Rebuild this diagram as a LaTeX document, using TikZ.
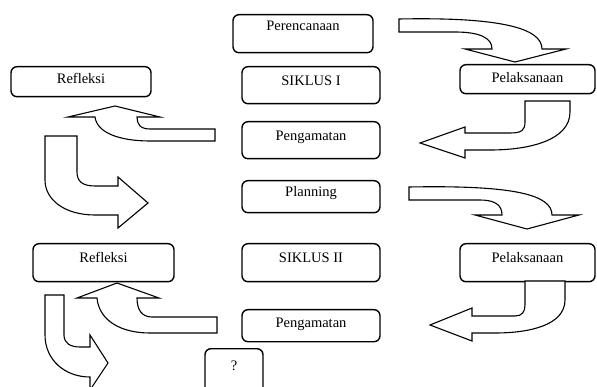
\documentclass[tikz,border=0pt]{standalone}
\usepackage{fontspec}
\setmainfont{Liberation Serif}
\begin{document}
\begin{tikzpicture}[x=1pt,y=-1pt,
  box/.style={draw=black, line width=1.4pt, rounded corners=6pt, inner xsep=0pt, inner ysep=0pt,
    anchor=north, font=\fontsize{14.5}{16}\selectfont},
  arr/.style={draw=black, line width=1.1pt, fill=white, line join=miter}]
\clip (0,0) rectangle (597,387);
\fill[white] (0,0) rectangle (597,387);

% boxes
\node[box, minimum width=140pt, text height=16pt, text depth=22pt] (per) at (303,14) {Perencanaan};
\node[box, minimum width=138pt, text height=19pt, text depth=18pt] (s1) at (311,66) {SIKLUS I};
\node[box, minimum width=138pt, text height=19pt, text depth=18pt] (peng1) at (311,121) {Pengamatan};
\node[box, minimum width=140pt, text height=17pt, text depth=13pt] (ref1) at (81,66) {Refleksi};
\node[box, minimum width=135pt, text height=18pt, text depth=11pt] (pel1) at (527.5,64) {Pelaksanaan};
\node[box, minimum width=138pt, text height=16pt, text depth=16pt] (plan) at (311,180) {Planning};
\node[box, minimum width=138pt, text height=19pt, text depth=19pt] (s2) at (311,243) {SIKLUS II};
\node[box, minimum width=135pt, text height=19pt, text depth=19pt] (pel2) at (527.5,243) {Pelaksanaan};
\node[box, minimum width=141pt, text height=19pt, text depth=19pt] (ref2) at (103.5,243) {Refleksi};
\node[box, minimum width=138pt, text height=18pt, text depth=14pt] (peng2) at (311,309) {Pengamatan};
\node[box, minimum width=58pt, text height=22pt, text depth=30pt] (q) at (234,348) {?};

% A1: Perencanaan -> Pelaksanaan
\draw[arr] (399,19) .. controls (500,17) and (542,28) .. (542,49) -- (566,49) -- (515,62) -- (465,49) -- (492,49)
  .. controls (492,38) and (480,32) .. (455,32) -- (399,32) -- cycle;
% A2: Pelaksanaan -> Pengamatan
\draw[arr] (525,101) -- (570,101) -- (570,112) .. controls (570,140) and (530,150) .. (490,150) -- (465,150)
  -- (465,158) -- (420,143) -- (465,127) -- (465,133) -- (510,133) .. controls (522,133) and (525,130) .. (525,122) -- cycle;
% A3: Pengamatan -> Refleksi
\draw[arr] (215,129) -- (150,129) .. controls (140,129) and (137,124) .. (137,117) -- (160,117) -- (115,106)
  -- (68,117) -- (95,117) .. controls (97,133) and (120,141) .. (150,141) -- (215,141) -- cycle;
% A4: Refleksi -> Planning
\draw[arr] (45,136) -- (77,136) -- (77,172) .. controls (77,181) and (82,186) .. (95,186) -- (118,186) -- (118,177)
  -- (148,203) -- (118,228) -- (118,215) -- (95,215) .. controls (65,215) and (45,200) .. (45,180) -- cycle;
% A5: Planning -> Pelaksanaan
\draw[arr] (409,187) .. controls (515,185) and (552,195) .. (552,215) -- (579,215) -- (527,229) -- (475,215) -- (502,215)
  .. controls (502,205) and (495,200) .. (480,200) -- (409,200) -- cycle;
% A6: Pelaksanaan -> Pengamatan
\draw[arr] (525,281) -- (565,281) -- (565,300) .. controls (565,325) and (530,333) .. (495,333) -- (472,333)
  -- (472,341) -- (430,325) -- (472,308) -- (472,316) -- (515,316) .. controls (522,316) and (525,312) .. (525,305) -- cycle;
% A7: Pengamatan -> Refleksi
\draw[arr] (217,317) -- (152,317) .. controls (142,317) and (137,310) .. (137,298) -- (159,298) -- (117,283)
  -- (77,298) -- (97,298) .. controls (99,320) and (120,333) .. (150,333) -- (217,333) -- cycle;
% A8: Refleksi -> ?
\draw[arr] (45,295) -- (64,295) -- (64,335) .. controls (64,343) and (70,347) .. (80,347) -- (90,347) -- (90,335)
  -- (108,363) -- (90,390) -- (90,377) .. controls (65,377) and (45,360) .. (45,335) -- cycle;
\end{tikzpicture}
\end{document}
